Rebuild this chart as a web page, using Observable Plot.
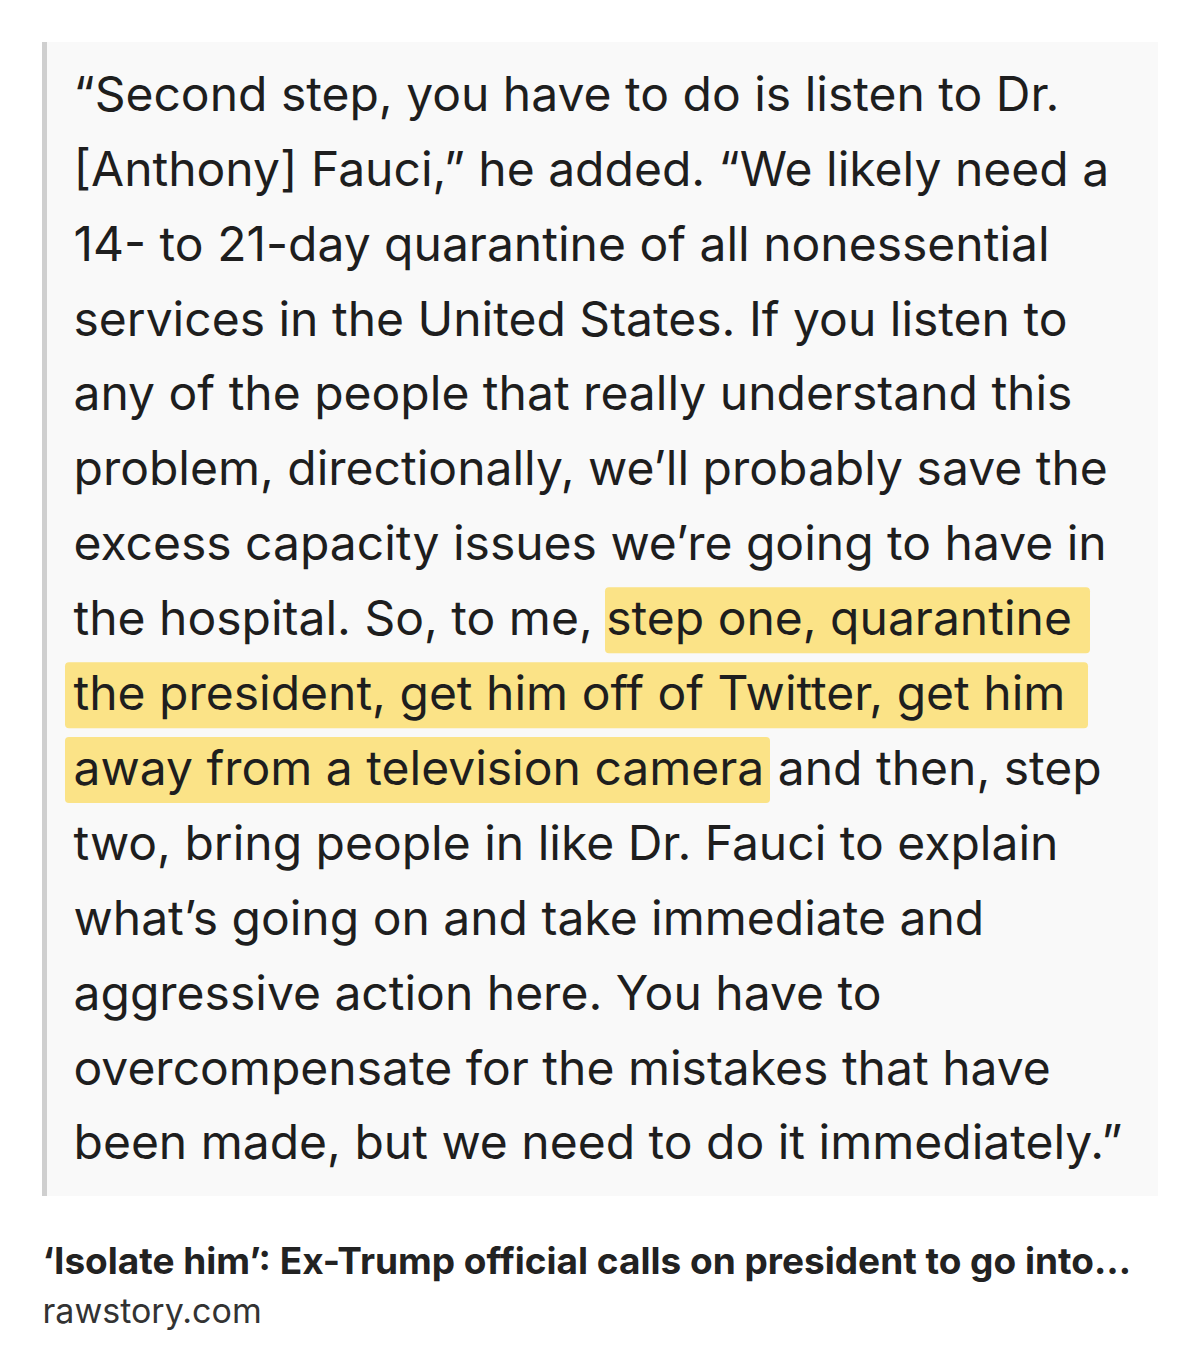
<!DOCTYPE html>
<html><head><meta charset="utf-8">
<script src="https://cdn.jsdelivr.net/npm/d3@7"></script>
<script src="https://cdn.jsdelivr.net/npm/@observablehq/plot@0.6"></script>
<style>body{margin:0;background:#fff}</style>
</head><body><div id="c"></div>
<script>
const lines = [
"“Second step, you have to do is listen to Dr.",
"[Anthony] Fauci,” he added. “We likely need a",
"14- to 21-day quarantine of all nonessential",
"services in the United States. If you listen to",
"any of the people that really understand this",
"problem, directionally, we’ll probably save the",
"excess capacity issues we’re going to have in",
"the hospital. So, to me, step one, quarantine",
"the president, get him off of Twitter, get him",
"away from a television camera and then, step",
"two, bring people in like Dr. Fauci to explain",
"what’s going on and take immediate and",
"aggressive action here. You have to",
"overcompensate for the mistakes that have",
"been made, but we need to do it immediately.”"
];
const highlights = [ {line:7, x1:605, x2:1090}, {line:8, x1:65, x2:1088}, {line:9, x1:65, x2:770} ];
const title = "‘Isolate him’: Ex-Trump official calls on president to go into…";
const source = "rawstory.com";

const lineY = i => 95 + i * 74.9;
const rows = lines.map((t,i)=>({t, y: lineY(i)}));
const hl = highlights.map(h=>({...h, y1: lineY(h.line)-32, y2: lineY(h.line)+34}));

const chart = Plot.plot({
  width:1200, height:1365, margin:0,
  x:{domain:[0,1200], axis:null}, y:{domain:[1365,0], axis:null},
  style:{fontFamily:"Inter, 'Noto Sans', sans-serif", background:"#fff"},
  marks:[
    Plot.rect([{x1:42,x2:1158,y1:42,y2:1196}], {x1:"x1",x2:"x2",y1:"y1",y2:"y2",fill:"#f9f9f9"}),
    Plot.rect([{x1:42,x2:47,y1:42,y2:1196}], {x1:"x1",x2:"x2",y1:"y1",y2:"y2",fill:"#cfcfcf"}),
    Plot.rect(hl, {x1:"x1",x2:"x2",y1:"y1",y2:"y2",fill:"#fbe07a",fillOpacity:0.9,rx:4}),
    Plot.text(rows, {x:73, y:"y", text:"t", textAnchor:"start", fontSize:48, fill:"#1e1e1e", lineAnchor:"middle"}),
    Plot.text([title], {x:42, y:1262, text:d=>d, textAnchor:"start", fontSize:37, fontWeight:"bold", fill:"#222"}),
    Plot.text([source], {x:42, y:1312, text:d=>d, textAnchor:"start", fontSize:34, fill:"#333"})
  ]
});
document.getElementById("c").append(chart);
</script></body></html>
